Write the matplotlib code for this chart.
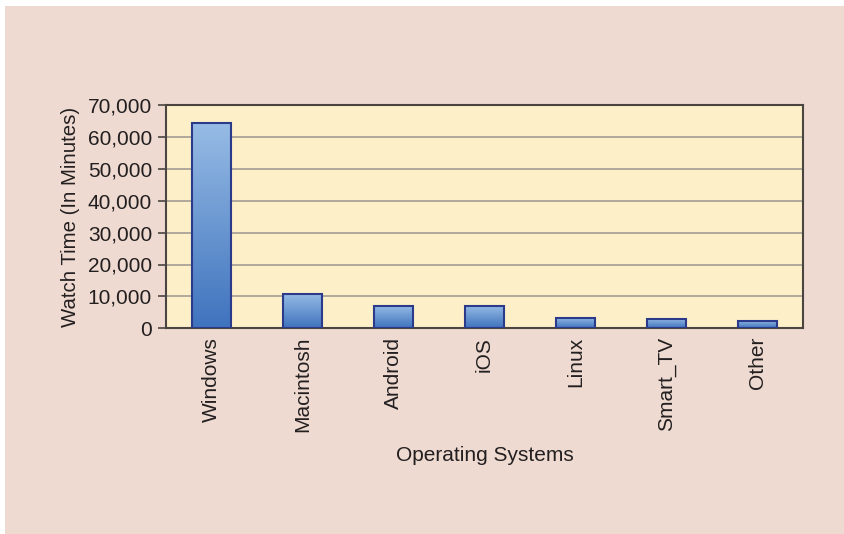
import numpy as np
import matplotlib.pyplot as plt
from matplotlib.colors import LinearSegmentedColormap
from matplotlib.patches import Rectangle
from matplotlib.ticker import FuncFormatter

systems = ["Windows", "Macintosh", "Android", "iOS", "Linux", "Smart_TV", "Other"]
watch_time = [64300, 10900, 7100, 7100, 3250, 2850, 2200]
yticks = [0, 10000, 20000, 30000, 40000, 50000, 60000, 70000]

plt.rcParams['font.family'] = ['Liberation Sans', 'DejaVu Sans']

fig = plt.figure(figsize=(8.45, 5.34), dpi=100)
fig.patch.set_facecolor("white")
# pink panel behind everything, leaves a thin white strip top/left
fig.patches.append(Rectangle((5 / 845, 0), 1, 1 - 6 / 534, transform=fig.transFigure,
                             facecolor="#EEDAD0", edgecolor="none", zorder=-10))

ax = fig.add_axes([166 / 845, 1 - 328.3 / 534, (803 - 166) / 845, (328.3 - 105) / 534])
ax.set_facecolor("#FDF0C8")

cmap = LinearSegmentedColormap.from_list("bar", ["#3F73BE", "#97BCE5"])
grad = np.linspace(0, 1, 256).reshape(-1, 1)
width = 0.43
x = np.arange(len(systems))
for xi, v in zip(x, watch_time):
    ax.imshow(grad, extent=[xi - width / 2, xi + width / 2, 0, v], origin="lower",
              aspect="auto", cmap=cmap, zorder=3)
ax.bar(x, watch_time, width=width, facecolor="none", edgecolor="#2B3A8A", linewidth=1.5, zorder=4)

ax.set_xlim(-0.5, len(systems) - 0.5)
ax.set_ylim(0, 70000)
ax.set_yticks(yticks)
ax.yaxis.set_major_formatter(FuncFormatter(lambda v, p: f"{int(v):,}"))
ax.set_xticks(x)
ax.set_xticklabels(systems, rotation=90)
ax.tick_params(axis="y", length=6, width=1.2, color="#4A4540", labelsize=15, labelcolor="#231F20", pad=4)
ax.tick_params(axis="x", length=0, labelsize=15, labelcolor="#231F20", pad=6)
ax.grid(axis="y", color="#A39C92", linewidth=1.2, zorder=1)
ax.set_axisbelow(True)
for s in ax.spines.values():
    s.set_color("#4A4540")
    s.set_linewidth(1.5)

ax.set_ylabel("Watch Time (In Minutes)", fontsize=14.7, color="#231F20", labelpad=6)
ax.set_xlabel("Operating Systems", fontsize=15, color="#231F20", labelpad=10)

fig.savefig("out.png", dpi=100)
